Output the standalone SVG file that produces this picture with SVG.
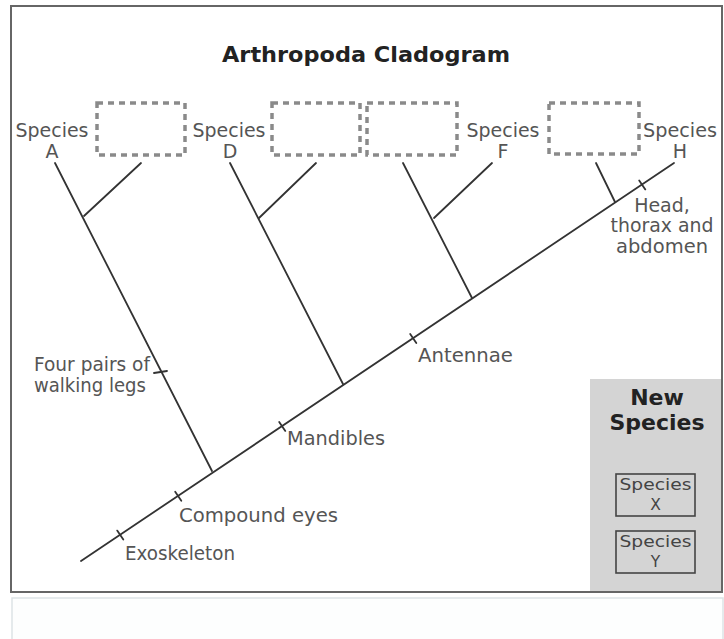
<svg xmlns="http://www.w3.org/2000/svg" width="724" height="639" viewBox="0 0 724 639">
<style>
.lbl{font-family:"DejaVu Sans","Liberation Sans",sans-serif;font-size:19px;fill:#555}
.mid{text-anchor:middle}
.bold{font-family:"DejaVu Sans","Liberation Sans",sans-serif;font-weight:bold;fill:#222}
.ln{stroke:#333;stroke-width:1.8;fill:none;stroke-linecap:round}
.dash{fill:none;stroke:#8a8a8a;stroke-width:3.5;stroke-dasharray:6 5}
.sbox{fill:none;stroke:#444;stroke-width:1.6}
.stx{font-family:"DejaVu Sans","Liberation Sans",sans-serif;font-size:15.5px;fill:#444;text-anchor:middle}
</style>
<rect x="0" y="0" width="724" height="639" fill="#ffffff"/>
<rect x="11" y="6" width="711" height="586" fill="#ffffff" stroke="#666" stroke-width="2"/>
<rect x="12" y="598" width="711" height="50" fill="#fdfefe" stroke="#dde3e6" stroke-width="1.5"/>
<text x="366" y="62" class="bold mid" font-size="22" textLength="288" lengthAdjust="spacingAndGlyphs">Arthropoda Cladogram</text>

<g id="box1"><rect x="97" y="103" width="88" height="52" class="dash"/></g>
<g id="box2"><rect x="272" y="103" width="88" height="52" class="dash"/></g>
<g id="box3"><rect x="367" y="103" width="90" height="52" class="dash"/></g>
<g id="box4"><rect x="549" y="103" width="90" height="51" class="dash"/></g>

<g id="speciesA"><text x="52" y="137" class="lbl mid" textLength="73" lengthAdjust="spacingAndGlyphs">Species</text><text x="52" y="158" class="lbl mid">A</text></g>
<g id="speciesD"><text x="229" y="137" class="lbl mid" textLength="73" lengthAdjust="spacingAndGlyphs">Species</text><text x="230" y="158" class="lbl mid">D</text></g>
<g id="speciesF"><text x="503" y="137" class="lbl mid" textLength="73" lengthAdjust="spacingAndGlyphs">Species</text><text x="503" y="158" class="lbl mid">F</text></g>
<g id="speciesH"><text x="680" y="137" class="lbl mid" textLength="74" lengthAdjust="spacingAndGlyphs">Species</text><text x="680" y="158" class="lbl mid">H</text></g>

<g id="connectors">
<line x1="81" y1="561" x2="674" y2="163" class="ln"/>
<line x1="55" y1="163" x2="212" y2="471" class="ln"/>
<line x1="141" y1="163" x2="84" y2="216" class="ln"/>
<line x1="230" y1="163" x2="343" y2="384" class="ln"/>
<line x1="316" y1="163" x2="259" y2="218" class="ln"/>
<line x1="403" y1="163" x2="472" y2="298" class="ln"/>
<line x1="492" y1="163" x2="434" y2="218" class="ln"/>
<line x1="596" y1="163" x2="615" y2="202" class="ln"/>
<line x1="117.2" y1="530.6" x2="123.3" y2="539.6" class="ln"/>
<line x1="175.2" y1="491.7" x2="181.3" y2="500.7" class="ln"/>
<line x1="279.2" y1="421.9" x2="285.3" y2="430.9" class="ln"/>
<line x1="410.2" y1="334" x2="416.3" y2="343" class="ln"/>
<line x1="639.2" y1="180.4" x2="645.3" y2="189.4" class="ln"/>
<line x1="154" y1="373" x2="167" y2="371" class="ln"/>
</g>

<g id="labels">
<text x="34" y="371" class="lbl" textLength="116" lengthAdjust="spacingAndGlyphs">Four pairs of</text>
<text x="34" y="392" class="lbl" textLength="112" lengthAdjust="spacingAndGlyphs">walking legs</text>
<text x="125" y="560" class="lbl" textLength="110" lengthAdjust="spacingAndGlyphs">Exoskeleton</text>
<text x="179" y="522" class="lbl" textLength="159" lengthAdjust="spacingAndGlyphs">Compound eyes</text>
<text x="287" y="445" class="lbl" textLength="98" lengthAdjust="spacingAndGlyphs">Mandibles</text>
<text x="418" y="362" class="lbl" textLength="95" lengthAdjust="spacingAndGlyphs">Antennae</text>
<text x="662" y="212" class="lbl mid">Head,</text>
<text x="662" y="232" class="lbl mid" textLength="103" lengthAdjust="spacingAndGlyphs">thorax and</text>
<text x="662" y="253" class="lbl mid" textLength="92" lengthAdjust="spacingAndGlyphs">abdomen</text>
</g>

<g id="newSpecies">
<rect x="590" y="379" width="131" height="212" fill="#d4d4d4"/>
<text x="657" y="405" class="bold mid" font-size="22">New</text>
<text x="657" y="430" class="bold mid" font-size="22" textLength="95" lengthAdjust="spacingAndGlyphs">Species</text>
</g>
<g id="speciesX">
<rect x="616" y="474" width="79" height="42" class="sbox"/>
<text x="655.5" y="490" class="stx" textLength="72" lengthAdjust="spacingAndGlyphs">Species</text>
<text x="655.5" y="510" class="stx">X</text>
</g>
<g id="speciesY">
<rect x="616" y="531" width="79" height="42" class="sbox"/>
<text x="655.5" y="547" class="stx" textLength="72" lengthAdjust="spacingAndGlyphs">Species</text>
<text x="655.5" y="567" class="stx">Y</text>
</g>
</svg>
